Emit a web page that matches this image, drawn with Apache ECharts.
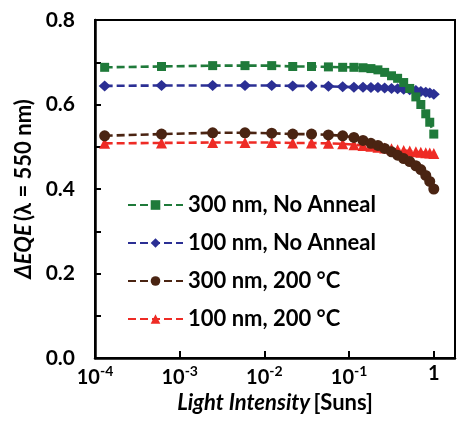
<!DOCTYPE html>
<html>
<head>
<meta charset="utf-8">
<script src="https://cdn.jsdelivr.net/npm/echarts@6/dist/echarts.min.js"></script>
<style>
html,body{margin:0;padding:0;background:#fff;}
#c{width:457px;height:422px;}
</style>
</head>
<body>
<div id="c"></div>
<script>
// Light intensity [Suns]
var intensity = [1.3e-4, 6.1e-4, 2.45e-3, 5.9e-3, 0.0122, 0.0216, 0.036, 0.057, 0.084, 0.114, 0.146, 0.181, 0.219, 0.263, 0.317, 0.374, 0.441, 0.520, 0.614, 0.703, 0.804, 0.896, 1.0];
var seriesNames = ['300 nm, No Anneal', '100 nm, No Anneal', '300 nm, 200 \u00B0C', '100 nm, 200 \u00B0C'];
var green300NoAnneal = [0.688, 0.690, 0.692, 0.692, 0.692, 0.690, 0.690, 0.689, 0.688, 0.688, 0.687, 0.685, 0.682, 0.676, 0.668, 0.662, 0.652, 0.638, 0.618, 0.600, 0.578, 0.558, 0.530];
var blue100NoAnneal = [0.644, 0.645, 0.645, 0.645, 0.645, 0.644, 0.644, 0.643, 0.642, 0.641, 0.641, 0.640, 0.640, 0.639, 0.638, 0.637, 0.636, 0.635, 0.633, 0.631, 0.629, 0.627, 0.624];
var brown300Anneal = [0.526, 0.530, 0.533, 0.533, 0.532, 0.530, 0.530, 0.528, 0.526, 0.522, 0.515, 0.508, 0.503, 0.496, 0.488, 0.480, 0.472, 0.465, 0.455, 0.446, 0.432, 0.418, 0.400];
var red100Anneal = [0.508, 0.509, 0.510, 0.510, 0.510, 0.509, 0.509, 0.508, 0.507, 0.505, 0.503, 0.501, 0.499, 0.497, 0.495, 0.493, 0.491, 0.490, 0.488, 0.487, 0.486, 0.485, 0.484];
var yTicks = [0.0, 0.2, 0.4, 0.6, 0.8];
var xTickExponents = [-4, -3, -2, -1, 0];

var FONT = 'Lato';
function pairs(ys){ return intensity.map(function(x,i){ return [x, ys[i]]; }); }

var colors = ['#1f7a3a', '#2b2f94', '#4a2412', '#ee2b25'];
var symbols = ['rect', 'diamond', 'circle', 'triangle'];
var symSizes = [9, [12, 11], 11, 11];
var dataSets = [green300NoAnneal, blue100NoAnneal, brown300Anneal, red100Anneal];

var series = dataSets.map(function(d, i){
  return {
    name: seriesNames[i],
    type: 'line',
    data: pairs(d),
    symbol: symbols[i],
    symbolSize: symSizes[i],
    showAllSymbol: true,
    itemStyle: {color: colors[i]},
    lineStyle: {color: colors[i], width: 2.6, type: [8, 4]},
    z: 10 - i
  };
});

var chart = echarts.init(document.getElementById('c'), null, {renderer: 'canvas'});
chart.setOption({
  animation: false,
  backgroundColor: '#fff',
  grid: {left: 95, right: 2, top: 20, bottom: 64, show: true, borderColor: '#000', borderWidth: 2, outerBoundsMode: 'none', containLabel: false},
  legend: {
    orient: 'vertical', left: 122, top: 188,
    itemWidth: 55, itemHeight: 12, itemGap: 14,
    data: seriesNames,
    textStyle: {fontFamily: FONT, fontWeight: 'bold', fontSize: 22, color: '#000', lineHeight: 24}
  },
  xAxis: {
    type: 'log', logBase: 10, min: 1e-4, max: 1.78,
    axisLine: {show: true, lineStyle: {color: '#000', width: 2.5}},
    axisTick: {show: true, inside: true, length: 7, lineStyle: {color: '#000', width: 2}},
    splitLine: {show: false},
    minorTick: {show: false},
    axisLabel: {
      margin: 6, showMaxLabel: false,
      formatter: function(v){
        var e = Math.log(v) / Math.LN10;
        var r = Math.round(e);
        if (Math.abs(e - r) > 1e-6 || xTickExponents.indexOf(r) < 0) return '';
        if (r === 0) return '{b|1}';
        return '{b|10}{s|' + r + '}';
      },
      rich: {
        b: {fontFamily: FONT, fontWeight: 'bold', fontSize: 20, color: '#000'},
        s: {fontFamily: FONT, fontWeight: 'bold', fontSize: 14, color: '#000', padding: [0, 0, 13, 0]}
      }
    },
    name: '{i|Light Intensity} {n|[Suns]}',
    nameLocation: 'middle', nameGap: 30,
    nameTextStyle: {
      rich: {
        i: {fontFamily: FONT, fontWeight: 'bold', fontStyle: 'italic', fontSize: 22, color: '#000'},
        n: {fontFamily: FONT, fontWeight: 'bold', fontSize: 22, color: '#000'}
      }
    }
  },
  yAxis: {
    type: 'value', min: 0, max: 0.8, interval: 0.1,
    axisLine: {show: true, lineStyle: {color: '#000', width: 2.5}},
    axisTick: {show: true, inside: true, length: 6, lineStyle: {color: '#000', width: 2}},
    splitLine: {show: false},
    axisLabel: {
      margin: 20,
      fontFamily: FONT, fontWeight: 'bold', fontSize: 21, color: '#000',
      formatter: function(v){
        for (var k = 0; k < yTicks.length; k++) {
          if (Math.abs(v - yTicks[k]) < 1e-6) return yTicks[k].toFixed(1);
        }
        return '';
      }
    },
    name: '{i|\u0394EQE} {n|(\u03BB = 550 nm)}',
    nameLocation: 'middle', nameGap: 56, nameRotate: 90,
    nameTextStyle: {
      rich: {
        i: {fontFamily: FONT, fontWeight: 'bold', fontStyle: 'italic', fontSize: 22, color: '#000'},
        n: {fontFamily: FONT, fontWeight: 'bold', fontSize: 22, color: '#000'}
      }
    }
  },
  series: series
});
</script>
</body>
</html>
